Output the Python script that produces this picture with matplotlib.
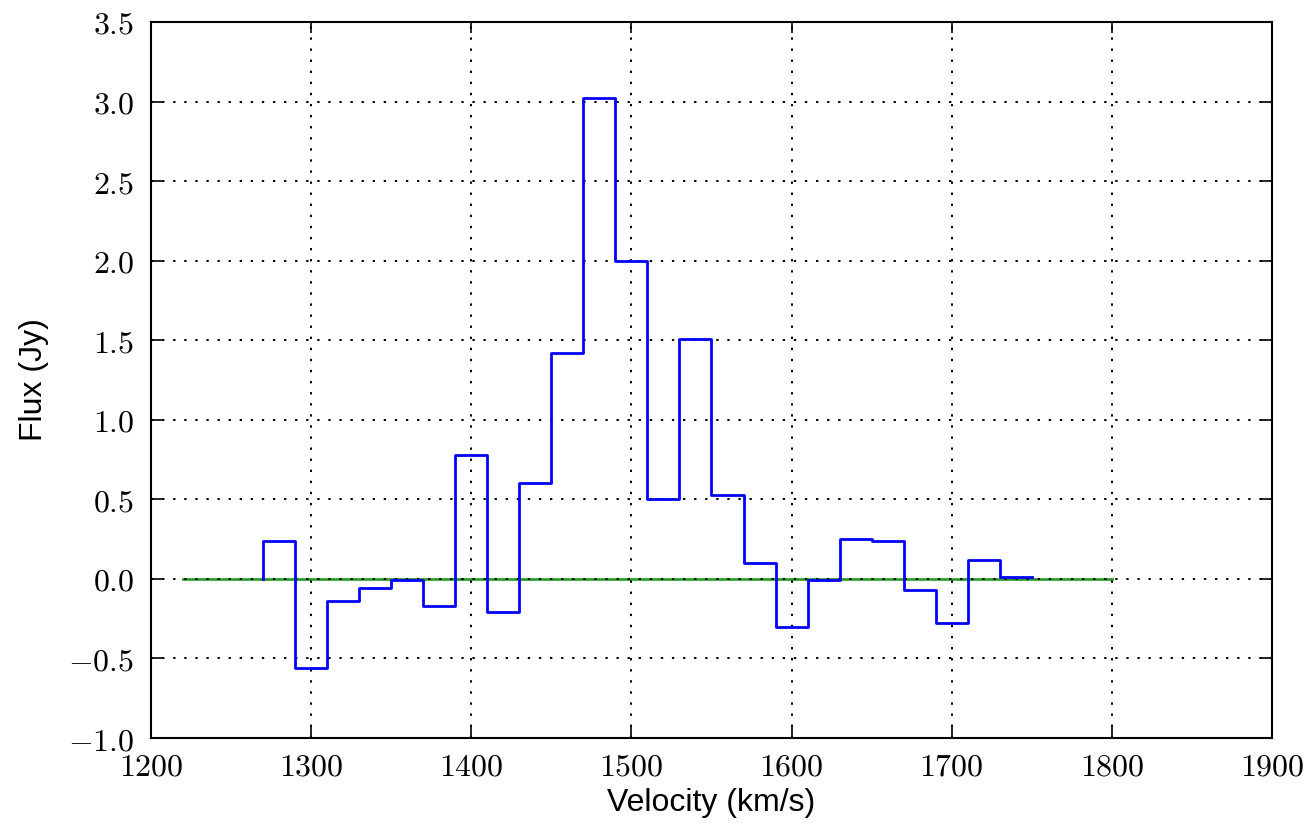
import numpy as np
import matplotlib
matplotlib.use("Agg")
import matplotlib.pyplot as plt
from matplotlib.ticker import FuncFormatter, MultipleLocator

# ===============================
# Data
# ===============================
# bin edges of the spectrum (km/s)
vel_edges = [1270, 1290, 1310, 1330, 1350, 1370, 1390, 1410, 1430, 1450,
             1470, 1490, 1510, 1530, 1550, 1570, 1590, 1610, 1630, 1650,
             1670, 1690, 1710, 1730, 1750]
# flux in each bin (Jy)
flux = [0.24, -0.56, -0.14, -0.06, -0.01, -0.17, 0.78, -0.21, 0.60, 1.42,
        3.02, 2.00, 0.50, 1.51, 0.53, 0.10, -0.30, -0.01, 0.25, 0.24,
        -0.07, -0.28, 0.12, 0.01]
# zero baseline
base_x = [1220, 1800]
base_y = [0.0, 0.0]

# ===============================
# Plot
# ===============================
plt.rcParams["mathtext.fontset"] = "cm"

fig = plt.figure(figsize=(13.08, 8.26), dpi=100)
ax = fig.add_axes([0.1154, 0.1065, 0.8571, 0.8669])

ax.plot(base_x, base_y, color="#2ca02c", lw=2.0, zorder=1)
ax.step(vel_edges, [0.0] + flux, where="pre", color="blue", lw=2.0, zorder=3)

ax.set_xlim(1200, 1900)
ax.set_ylim(-1.0, 3.5)
ax.xaxis.set_major_locator(MultipleLocator(100))
ax.yaxis.set_major_locator(MultipleLocator(0.5))
ax.xaxis.set_major_formatter(FuncFormatter(lambda v, p: r"$%d$" % v))
ax.yaxis.set_major_formatter(FuncFormatter(lambda v, p: r"$%.1f$" % v))

ax.grid(True, color="black", linestyle=(0, (1.2, 4.5)), linewidth=1.4, zorder=2)
ax.set_axisbelow(False)

ax.tick_params(direction="in", top=True, right=True, length=8, width=1.2,
               labelsize=23)
ax.tick_params(axis="y", pad=12)
ax.tick_params(axis="x", pad=10)
for s in ax.spines.values():
    s.set_linewidth(1.5)

ax.set_xlabel("Velocity (km/s)", fontsize=23, family="Liberation Sans", labelpad=4)
ax.set_ylabel("Flux (Jy)", fontsize=23, family="Liberation Sans", labelpad=14)

fig.savefig("out.png", dpi=100)
